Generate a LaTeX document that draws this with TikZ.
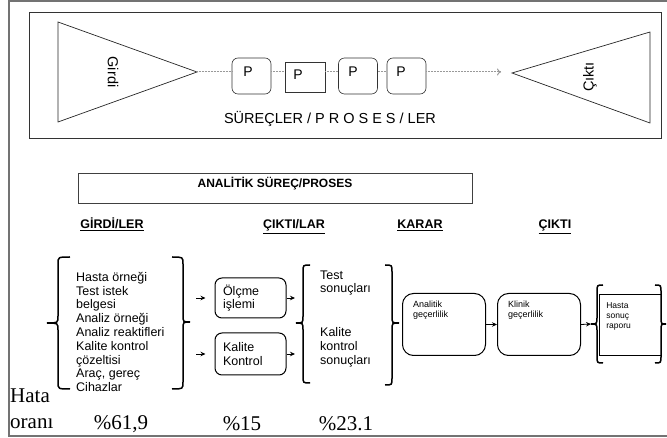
\documentclass[tikz,border=0pt]{standalone}
\usepackage{fontspec}
\setmainfont{Liberation Sans}
\newfontfamily\timesface{Liberation Serif}
\usetikzlibrary{arrows.meta,calc}

% curly brace: hook x, spine x, tip x, top y, tip y, bottom y
\newcommand\curlybrace[6]{%
  \draw[bracestyle] (#1,#4) .. controls (#2,#4) .. (#2,#4+7)
    -- (#2,#5-7) .. controls (#2,#5) .. (#3,#5)
    .. controls (#2,#5) .. (#2,#5+7)
    -- (#2,#6-7) .. controls (#2,#6) .. (#1,#6);}

\tikzset{
  outerline/.style={draw=black!55, line width=1.1pt},
  topframe/.style={draw=black!80, line width=0.8pt},
  tri/.style={draw=black!85, line width=0.7pt},
  pbox/.style={draw=black!80, line width=0.6pt, rounded corners=6pt,
    minimum width=39pt, minimum height=36pt, inner sep=0pt},
  sqbox/.style={draw=black!80, line width=0.6pt,
    minimum width=40pt, minimum height=30pt, inner sep=0pt},
  ptext/.style={font=\fontsize{14}{16}\selectfont, inner sep=0pt},
  flow/.style={draw=black!40, line width=1pt, dash pattern=on 1pt off 0.5pt},
  bigtext/.style={font=\fontsize{14.5}{17}\selectfont, inner sep=0pt},
  hdrbox/.style={draw=black!75, line width=0.8pt, minimum width=394pt,
    minimum height=30pt, inner sep=0pt, text height=9pt, text depth=10pt,
    font=\bfseries\fontsize{12}{14}\selectfont},
  hdr/.style={font=\bfseries\fontsize{12.5}{14}\selectfont, inner sep=0pt,
    text height=9pt, text depth=3pt},
  listtext/.style={font=\fontsize{12.5}{13.8}\selectfont, align=left, inner sep=0pt},
  stepbox/.style={draw=black, line width=1pt, rounded corners=7pt,
    minimum width=71pt, text width=55pt, inner xsep=8pt, align=left,
    font=\fontsize{12.5}{13.5}\selectfont},
  decbox/.style={draw=black, line width=1pt, rounded corners=11pt,
    anchor=north west, minimum width=83pt, text width=62pt, inner xsep=10.5pt,
    inner ysep=6pt, text height=8pt, text depth=42pt, align=left,
    font=\fontsize{9}{10}\selectfont},
  reportbox/.style={draw=black, line width=0.7pt, anchor=north west,
    minimum width=59pt, text width=48pt, inner xsep=7pt, inner ysep=6pt,
    text height=8pt, text depth=41pt, align=left,
    font=\fontsize{8.5}{10}\selectfont},
  bracestyle/.style={draw=black, line width=1.5pt},
  arr/.style={draw=black, line width=0.8pt, -{Stealth[length=5pt,width=4.5pt]}},
  serif/.style={font=\timesface\fontsize{21}{24}\selectfont, inner sep=0pt}
}

\begin{document}
\begin{tikzpicture}[x=1pt, y=-1pt]
\useasboundingbox (0,0) rectangle (667,438);

% page frame
\draw[outerline] (667,1) -- (9,1) -- (9,436) -- (667,436);

% ---------- process overview ----------
\draw[topframe] (29,12) rectangle (661,138);

\coordinate (gtip) at (197,72);
\coordinate (ctip) at (512,73);
\coordinate (flowend) at (501,72);

\draw[tri] (58,22) -- (58,122) -- (gtip) -- cycle;
\draw[tri] (ctip) -- (650,32) -- (650,123) -- cycle;
\node[bigtext, rotate=-90] (girdi) at (113,72) {Girdi};
\node[bigtext, rotate=90] (cikti) at (590,77) {Çıktı};

\node[pbox]  (p1) at (251.5,76) {};
\node[sqbox] (p2) at (305,77) {};
\node[pbox]  (p3) at (358,76) {};
\node[pbox]  (p4) at (406.5,76) {};
\node[ptext] (p1t) at (248,72) {P};
\node[ptext] (p2t) at (298,75) {P};
\node[ptext] (p3t) at (353,72) {P};
\node[ptext] (p4t) at (401,72) {P};

\draw[flow] (gtip) -- (p1.west |- gtip);
\draw[flow] (p1.east |- gtip) -- (p2.west |- gtip);
\draw[flow] (p2.east |- gtip) -- (p3.west |- gtip);
\draw[flow] (p3.east |- gtip) -- (p4.west |- gtip);
\draw[flow, -{To[length=4pt,width=7pt]}] (p4.east |- gtip) -- (flowend);

\node[bigtext] (surec) at (330,119) {SÜREÇLER / P R O S E S / LER};

% ---------- analytic process ----------
\node[hdrbox] (analitik) at (275,188) {ANALİTİK SÜREÇ/PROSES};

\node[hdr] (hgirdi) at (112,226) {\underline{GİRDİ/LER}};
\node[hdr] (hcikti) at (294,226) {\underline{ÇIKTI/LAR}};
\node[hdr] (hkarar) at (420,226) {\underline{KARAR}};
\node[hdr] (hson)   at (555,226) {\underline{ÇIKTI}};

\node[listtext, anchor=west] (inputs) at (76,332)
  {Hasta örneği\\Test istek\\belgesi\\Analiz örneği\\Analiz reaktifleri\\
   Kalite kontrol\\çözeltisi\\Araç, gereç\\Cihazlar};
\curlybrace{70}{58}{47}{257}{323}{389}
\curlybrace{172}{183}{190}{257}{322}{389}

\node[stepbox, minimum height=40pt] (olcme) at (250.5,298) {Ölçme\\işlemi};
\node[stepbox, minimum height=42pt] (kalite) at (250.5,354) {Kalite\\Kontrol};

\coordinate (in1) at (196,298);
\coordinate (in2) at (196,354);
\coordinate (out1) at (295,298);
\coordinate (out2) at (295,354);
\draw[arr, shorten >=9pt] (in1) -- (olcme.west);
\draw[arr, shorten >=9pt] (in2) -- (kalite.west);
\draw[arr] (olcme.east) -- (out1);
\draw[arr] (kalite.east) -- (out2);

\curlybrace{310}{303}{296}{265}{323}{383}
\node[listtext, anchor=west] (testres) at (320,283) {Test\\sonuçları};
\node[listtext, anchor=west] (kkres) at (320,347) {Kalite\\kontrol\\sonuçları};
\curlybrace{385}{392}{399}{265}{323}{385}

\node[decbox] (angec) at (402,293) {Analitik\\geçerlilik};
\node[decbox] (klgec) at (497,293) {Klinik\\geçerlilik};
\coordinate (raportip) at (591,324);
\draw[arr] (angec.east) -- (klgec.west);
\draw[arr] (klgec.east) -- (raportip);

\curlybrace{603}{597}{591}{285}{324}{363}
\node[reportbox] (rapor) at (599,294) {Hasta\\sonuç\\raporu};
\curlybrace{655}{661}{666}{285}{324}{363}

% ---------- error rates ----------
\node[serif, anchor=west] (hata) at (10,396) {Hata};
\node[serif, anchor=west] (orani) at (10,424) {oranı};
\node[serif] (r1) at (121,424) {\%61,9};
\node[serif] (r2) at (242,424) {\%15};
\node[serif] (r3) at (346,424) {\%23.1};
\end{tikzpicture}
\end{document}
